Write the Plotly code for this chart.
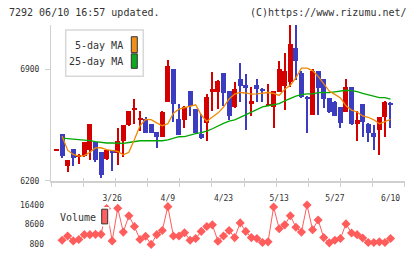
import plotly.graph_objects as go
import numpy as np

# ---------------- data ----------------
idx = list(range(61))
opens = [6393, 6491, 6294, 6400, 6350, 6355, 6396, 6441, 6379, 6338,
         6394, 6375, 6447, 6547, 6645, 6586, 6588, 6553, 6508, 6476,
         6696, 6900, 6589, 6580, 6763, 6649, 6491, 6563, 6758, 6757,
         6875, 6761, 6661, 6839, 6798, 6680, 6798, 6777, 6672, 6661,
         6757, 6792, 6819, 7029, 6875, 6727, 6614, 6886, 6839, 6716,
         6696, 6661, 6631, 6788, 6553, 6680, 6557, 6502, 6516, 6598,
         6686]
highs = [6398, 6492, 6329, 6400, 6365, 6445, 6555, 6441, 6379, 6396,
         6394, 6532, 6549, 6637, 6710, 6635, 6600, 6553, 6508, 6638,
         6955, 6900, 6681, 6667, 6763, 6649, 6620, 6741, 6880, 6830,
         6875, 6761, 6820, 6937, 6869, 6788, 6839, 6779, 6808, 6763,
         6949, 7002, 7175, 7175, 6890, 6729, 6900, 6888, 6839, 6718,
         6698, 6663, 6839, 6790, 6635, 6682, 6559, 6549, 6600, 6698,
         6696]
lows = [6393, 6343, 6257, 6294, 6308, 6350, 6329, 6318, 6216, 6329,
        6263, 6298, 6349, 6545, 6553, 6510, 6500, 6500, 6406, 6474,
        6694, 6569, 6486, 6532, 6608, 6496, 6465, 6451, 6640, 6650,
        6667, 6583, 6659, 6696, 6516, 6609, 6696, 6696, 6670, 6528,
        6755, 6645, 6788, 6834, 6720, 6498, 6612, 6612, 6655, 6627,
        6606, 6528, 6629, 6551, 6451, 6476, 6445, 6395, 6359, 6476,
        6528]
closes = [6396, 6355, 6329, 6345, 6357, 6441, 6553, 6330, 6237, 6394,
          6375, 6451, 6549, 6635, 6650, 6590, 6502, 6502, 6476, 6629,
          6920, 6681, 6488, 6665, 6667, 6498, 6467, 6727, 6775, 6828,
          6753, 6608, 6777, 6792, 6784, 6698, 6773, 6761, 6680, 6761,
          6900, 6886, 7059, 6951, 6722, 6712, 6886, 6784, 6712, 6629,
          6608, 6563, 6788, 6553, 6580, 6567, 6498, 6476, 6598, 6696,
          6675]
ma5 = [None, 6480, 6392, 6365, 6355, 6358, 6379, 6406, 6407, 6396,
       6390, 6384, 6363, 6379, 6459, 6545, 6585, 6583, 6563, 6545,
       6557, 6624, 6649, 6657, 6667, 6676, 6612, 6572, 6600, 6624,
       6661, 6712, 6743, 6753, 6750, 6743, 6744, 6747, 6753, 6747,
       6735, 6774, 6799, 6845, 6906, 6906, 6890, 6854, 6811, 6762,
       6741, 6719, 6670, 6643, 6631, 6606, 6598, 6582, 6557, 6569,
       6585]
ma25 = [None, 6468, 6465, 6461, 6461, 6458, 6452, 6446, 6440, 6437,
        6437, 6434, 6434, 6440, 6446, 6451, 6451, 6451, 6449, 6451,
        6456, 6468, 6476, 6477, 6487, 6496, 6502, 6511, 6526, 6545,
        6560, 6574, 6582, 6597, 6614, 6634, 6649, 6663, 6670, 6678,
        6683, 6701, 6716, 6730, 6740, 6745, 6745, 6752, 6753, 6752,
        6757, 6761, 6767, 6765, 6759, 6747, 6738, 6727, 6721, 6721,
        6712]
volume = [None, 2360, 4040, 2090, 2630, 4580, 4580, 4700, 4700, 15000,
          2090, 15110, 5600, 12110, 7820, 2630, 3920, 700, 4580, 6260,
          15740, 4040, 4040, 5360, 2360, 3020, 5870, 7820, 8480, 1970,
          4040, 6260, 3410, 9260, 5870, 3410, 3020, 1460, 1700, 15620,
          6920, 8480, 12110, 7550, 5600, 16400, 6530, 10430, 3410, 1310,
          2360, 3020, 8870, 5210, 4580, 3260, 1460, 1460, 1700, 1460,
          3020]
date_tick_pos = [10, 20, 30, 40, 50, 60]
date_tick_labels = ["3/26", "4/9", "4/23", "5/13", "5/27", "6/10"]
price_ticks = [6200, 6900]
price_tick_labels = ["6200", "6900"]
volume_ticks = [800, 8600, 16400]
volume_tick_labels = ["800", "8600", "16400"]

# ---------------- styling ----------------
W, H = 420, 259
L, R, T, B = 51, 15, 25, 4
PW, PH = W - L - R, H - T - B
RED, BLUE = "#d40000", "#3c3cc0"
ORANGE, GREEN, VOLC = "#f08800", "#00a800", "#ff5c5c"
AXC = "#d0d0d0"
FONT = "DejaVu Sans Mono"
TXT = "#333333"

def pxx(px):
    return (px - L) / PW

def pxy(py):
    return (H - B - py) / PH

x0, x1 = -0.988, 62.6
xr = [x0, x1]
minor_ticks = list(np.linspace(x0 + 0.001, x1 - 0.001, 12))

colors = [RED if c >= o else BLUE for o, c in zip(opens, closes)]
body_base = [min(o, c) for o, c in zip(opens, closes)]
body_len = [max(abs(c - o), 4) for o, c in zip(opens, closes)]
wick_len = [h - l for h, l in zip(highs, lows)]

fig = go.Figure()
fig.add_trace(go.Bar(x=idx, y=wick_len, base=lows, width=0.2,
                     marker=dict(color=colors, line=dict(width=0)),
                     xaxis="x", yaxis="y", hoverinfo="skip"))
fig.add_trace(go.Bar(x=idx, y=body_len, base=body_base, width=0.9,
                     marker=dict(color=colors, line=dict(width=0)),
                     xaxis="x", yaxis="y", hoverinfo="skip"))
fig.add_trace(go.Scatter(x=idx, y=ma25, mode="lines",
                         line=dict(color=GREEN, width=1.3),
                         xaxis="x3", yaxis="y"))
fig.add_trace(go.Scatter(x=idx, y=ma5, mode="lines",
                         line=dict(color=ORANGE, width=1.3),
                         xaxis="x3", yaxis="y"))
fig.add_trace(go.Scatter(x=idx, y=volume, mode="lines+markers",
                         line=dict(color=VOLC, width=1),
                         marker=dict(symbol="diamond", size=7, color=VOLC),
                         xaxis="x2", yaxis="y2"))

main_bottom = pxy(184.3)
vol_top = pxy(203)
v_per_px = 390.0
vol_range = [800 - (H - B - 249) * v_per_px, 800 + (249 - 203) * v_per_px]
p_per_px = 700 / (184.3 - 70)
price_range = [6200, 6200 + (184.3 - T) * p_per_px]

tickfont = dict(family=FONT, size=8, color=TXT)
fig.update_layout(
    width=W, height=H, margin=dict(l=L, r=R, t=T, b=B),
    paper_bgcolor="white", plot_bgcolor="white",
    showlegend=False, barmode="overlay", bargap=0,
    xaxis=dict(domain=[0, 1], range=xr, anchor="y", showline=True,
               linecolor=AXC, linewidth=2, ticks="outside", ticklen=4,
               tickcolor=AXC, tickwidth=1, tickvals=minor_ticks,
               showticklabels=False, showgrid=False, zeroline=False),
    xaxis3=dict(range=xr, anchor="y", overlaying="x", ticks="inside",
                ticklen=3, tickcolor=AXC, tickwidth=1, tickvals=minor_ticks,
                showticklabels=False, showline=False, showgrid=False,
                zeroline=False),
    xaxis2=dict(domain=[0, 1], range=xr, anchor="free", position=pxy(207),
                side="top",
                tickvals=date_tick_pos, ticktext=date_tick_labels,
                ticks="", showline=False, showgrid=False, zeroline=False,
                tickfont=tickfont),
    yaxis=dict(domain=[main_bottom, 1], range=price_range, showline=True,
               linecolor=AXC, linewidth=1, ticks="outside", ticklen=5,
               tickcolor=AXC, tickvals=price_ticks,
               ticktext=price_tick_labels, showgrid=False,
               zeroline=False, tickfont=tickfont, ticklabelstandoff=4),
    yaxis2=dict(domain=[0, vol_top], range=vol_range, tickvals=volume_ticks,
                ticktext=volume_tick_labels,
                ticks="", showline=False, showgrid=False, zeroline=False,
                tickfont=tickfont, ticklabelstandoff=6),
)

shapes = []
# main legend box
shapes.append(dict(type="rect", xref="paper", yref="paper",
                   x0=pxx(65.7), x1=pxx(143.3), y0=pxy(77.3), y1=pxy(30),
                   line=dict(color="#d8d8d8", width=1.5), fillcolor="white",
                   layer="above"))
shapes.append(dict(type="rect", xref="paper", yref="paper",
                   x0=pxx(131.3), x1=pxx(137.3), y0=pxy(53.3), y1=pxy(37),
                   line=dict(color="#333", width=1), fillcolor="#f0901c",
                   layer="above"))
shapes.append(dict(type="rect", xref="paper", yref="paper",
                   x0=pxx(131.3), x1=pxx(137.3), y0=pxy(69.3), y1=pxy(54.5),
                   line=dict(color="#333", width=1), fillcolor="#10a820",
                   layer="above"))
# volume legend
shapes.append(dict(type="rect", xref="paper", yref="paper",
                   x0=pxx(56), x1=pxx(109.5), y0=pxy(231), y1=pxy(211),
                   line=dict(width=0), fillcolor="white", layer="above"))
shapes.append(dict(type="rect", xref="paper", yref="paper",
                   x0=pxx(101.7), x1=pxx(107.7), y0=pxy(228.3), y1=pxy(213.3),
                   line=dict(color="#333", width=1), fillcolor="#ff6060",
                   layer="above"))
fig.update_layout(shapes=shapes)

annos = []
def txt(text, px, py, anchor, size=10):
    annos.append(dict(text=text, xref="paper", yref="paper", x=pxx(px),
                      y=pxy(py), xanchor=anchor, yanchor="middle",
                      showarrow=False, font=dict(family=FONT, size=size,
                                                 color=TXT)))

txt("7292 06/10 16:57 updated.", 7, 12, "left")
txt("(C)https://www.rizumu.net/", 409, 12, "right")
txt("5-day MA", 125, 45.5, "right")
txt("25-day MA", 125, 62, "right")
txt("Volume", 58, 221.5, "left")
fig.update_layout(annotations=annos)

fig.write_html("out.html")
